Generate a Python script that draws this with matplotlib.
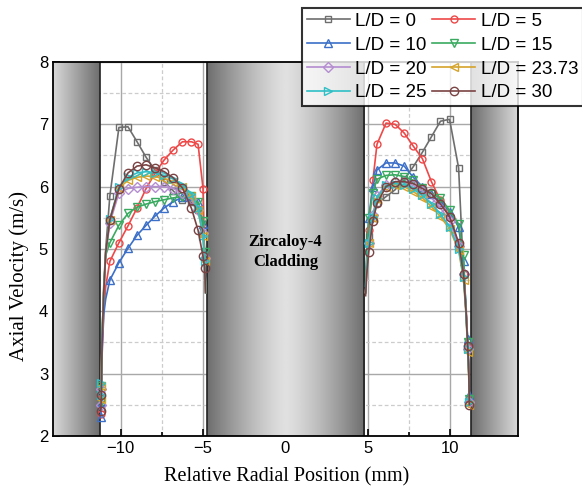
import matplotlib.pyplot as plt
import numpy as np
from matplotlib.ticker import MultipleLocator

# radial positions (mm) of the sampled points in the two coolant channels
x_left = [-11.2, -11.17, -11.12, -11.02, -10.9, -10.65, -10.1, -9.55, -9.0,
          -8.45, -7.9, -7.35, -6.8, -6.25, -5.7, -5.3, -5.0, -4.9, -4.84]
x_right = [4.86, 4.93, 5.05, 5.3, 5.55, 6.1, 6.65, 7.2, 7.75, 8.3, 8.85,
           9.4, 9.95, 10.5, 10.8, 10.95, 11.05, 11.12, 11.15]

labels = ['L/D = 0', 'L/D = 5', 'L/D = 10', 'L/D = 15',
          'L/D = 20', 'L/D = 23.73', 'L/D = 25', 'L/D = 30']

# axial velocity (m/s), left channel
v_left = [
    [2.45, 2.7, 3.6, 4.4, 5.0, 5.85, 6.95, 6.96, 6.72, 6.47, 6.26, 6.08, 5.93, 5.78, 5.75, 5.62, 5.3, 4.9, 4.3],
    [2.35, 2.6, 3.4, 4.0, 4.4, 4.8, 5.1, 5.37, 5.66, 5.97, 6.22, 6.43, 6.59, 6.72, 6.72, 6.68, 5.97, 4.85, 4.3],
    [2.3, 2.55, 3.3, 3.95, 4.2, 4.5, 4.78, 5.01, 5.22, 5.38, 5.53, 5.66, 5.76, 5.83, 5.85, 5.75, 5.4, 4.9, 4.3],
    [2.55, 2.8, 3.6, 4.3, 4.9, 5.1, 5.38, 5.57, 5.67, 5.72, 5.76, 5.79, 5.82, 5.84, 5.85, 5.75, 5.45, 4.95, 4.3],
    [2.5, 2.75, 3.5, 4.3, 4.9, 5.42, 5.9, 5.97, 5.99, 6.0, 6.0, 6.0, 5.97, 5.9, 5.8, 5.62, 5.25, 4.85, 4.3],
    [2.6, 2.8, 3.6, 4.35, 4.95, 5.47, 5.98, 6.1, 6.15, 6.17, 6.16, 6.13, 6.08, 6.0, 5.85, 5.62, 5.2, 4.8, 4.3],
    [2.65, 2.85, 3.6, 4.35, 4.95, 5.48, 6.0, 6.15, 6.22, 6.24, 6.22, 6.18, 6.12, 6.03, 5.88, 5.65, 5.2, 4.8, 4.3],
    [2.4, 2.65, 3.5, 4.3, 4.95, 5.47, 5.97, 6.22, 6.33, 6.35, 6.3, 6.24, 6.14, 5.98, 5.65, 5.3, 4.88, 4.7, 4.3],
]

# axial velocity (m/s), right channel
v_right = [
    [4.3, 4.8, 5.2, 5.5, 5.73, 5.84, 5.95, 6.12, 6.32, 6.55, 6.8, 7.05, 7.08, 6.3, 4.6, 4.1, 3.5, 3.0, 2.55],
    [4.3, 4.7, 5.3, 6.1, 6.68, 7.02, 7.0, 6.86, 6.65, 6.45, 6.08, 5.78, 5.52, 5.08, 4.6, 4.0, 3.45, 3.0, 2.6],
    [4.4, 4.9, 5.5, 6.0, 6.27, 6.38, 6.38, 6.33, 6.15, 6.0, 5.88, 5.75, 5.6, 5.35, 4.8, 4.0, 3.55, 3.1, 2.65],
    [4.4, 4.9, 5.5, 5.9, 6.12, 6.18, 6.19, 6.16, 6.1, 5.98, 5.88, 5.82, 5.62, 5.4, 4.9, 4.0, 3.5, 3.05, 2.6],
    [4.3, 4.7, 5.1, 5.55, 5.85, 6.03, 6.08, 6.07, 6.02, 5.93, 5.82, 5.66, 5.45, 5.05, 4.6, 4.0, 3.4, 2.95, 2.55],
    [4.3, 4.7, 5.1, 5.5, 5.8, 6.0, 6.03, 6.0, 5.92, 5.82, 5.68, 5.52, 5.32, 4.98, 4.5, 3.95, 3.35, 2.9, 2.5],
    [4.3, 4.7, 5.1, 5.52, 5.82, 6.02, 6.05, 6.03, 5.96, 5.86, 5.72, 5.56, 5.36, 5.0, 4.55, 3.95, 3.4, 2.95, 2.55],
    [4.25, 4.6, 4.95, 5.45, 5.73, 6.0, 6.08, 6.08, 6.05, 5.97, 5.89, 5.72, 5.52, 5.1, 4.6, 4.0, 3.45, 3.0, 2.5],
]

colors = ['#6e6e6e', '#ee4848', '#3b6fc8', '#3aaa60', '#b48cd0', '#d4a32a', '#2ebfc6', '#7a4343']
markers = ['s', 'o', '^', 'v', 'D', '<', '>', 'o']
sizes = [5, 5, 6, 6, 5, 6, 6, 6]

mark_left = [0, 1] + list(range(5, 18))
mark_right = list(range(2, 15)) + [16, 18]

fig = plt.figure(figsize=(5.82, 4.92), dpi=100)
ax = fig.add_axes([0.091, 0.114, 0.799, 0.76])

# metal walls drawn as grey gradients
ramp = np.linspace(0, 1, 256)[None, :]
ax.imshow(0.85 - 0.42 * ramp, cmap='gray', vmin=0, vmax=1, aspect='auto',
          extent=[-14.1, -11.25, 2, 8], zorder=1)
ax.imshow(0.43 + 0.42 * ramp, cmap='gray', vmin=0, vmax=1, aspect='auto',
          extent=[11.25, 14.1, 2, 8], zorder=1)
clad = 0.88 - 0.45 * np.abs(np.linspace(-1, 1, 256))[None, :] ** 1.3
ax.imshow(clad, cmap='gray', vmin=0, vmax=1, aspect='auto',
          extent=[-4.78, 4.78, 2, 8], zorder=1)
for xe in [-11.25, -4.78, 4.78, 11.25]:
    ax.axvline(xe, color='#222222', lw=1.2, zorder=1.5)
ax.set_xlim(-14.1, 14.1)
ax.set_ylim(2, 8)

handles = []
for i in range(len(labels)):
    kw = dict(color=colors[i], marker=markers[i], ms=sizes[i], mfc='none',
              mew=1.0, lw=1.2, zorder=3)
    h, = ax.plot(x_left, v_left[i], markevery=mark_left, label=labels[i], **kw)
    ax.plot(x_right, v_right[i], markevery=mark_right, **kw)
    handles.append(h)

ax.text(0, 4.95, 'Zircaloy-4\nCladding', ha='center', va='center',
        family='Liberation Serif', fontweight='bold', fontsize=12,
        linespacing=1.4, zorder=4)

ax.xaxis.set_major_locator(MultipleLocator(5))
ax.xaxis.set_minor_locator(MultipleLocator(2.5))
ax.yaxis.set_major_locator(MultipleLocator(1))
ax.yaxis.set_minor_locator(MultipleLocator(0.5))
ax.grid(which='major', color='#a8a8a8', lw=1.0, ls='-', zorder=0)
ax.grid(which='minor', color='#cccccc', lw=0.9, ls=(0, (3, 2)), zorder=0)
ax.set_axisbelow(True)
ax.tick_params(which='both', direction='in', labelsize=12, width=1.2)
ax.tick_params(which='major', length=5)
ax.tick_params(which='minor', length=3)
for lab in ax.get_xticklabels() + ax.get_yticklabels():
    lab.set_family('Liberation Sans')
for sp in ax.spines.values():
    sp.set_linewidth(1.3)
    sp.set_zorder(5)

fig.text(287 / 582, 1 - 477 / 492, 'Relative Radial Position (mm)',
         family='Liberation Serif', fontsize=14.5, ha='center', va='center')
fig.text(19 / 582, 1 - 276 / 492, 'Axial Velocity (m/s)', rotation=90,
         family='Liberation Serif', fontsize=15, ha='center', va='center')

# legend filled row by row, as in the original
order = [0, 2, 4, 6, 1, 3, 5, 7]
leg = fig.legend([handles[k] for k in order], [labels[k] for k in order],
                 loc='upper left', bbox_to_anchor=(302 / 582, 1 - 8 / 492),
                 ncol=2, prop={'family': 'Liberation Sans', 'size': 13.5},
                 frameon=True, fancybox=False, edgecolor='black',
                 handlelength=2.3, handletextpad=0.28, columnspacing=0.3,
                 labelspacing=0.36, borderpad=0.25, borderaxespad=0)
leg.get_frame().set_linewidth(1.5)

fig.savefig('out.png', dpi=100)
